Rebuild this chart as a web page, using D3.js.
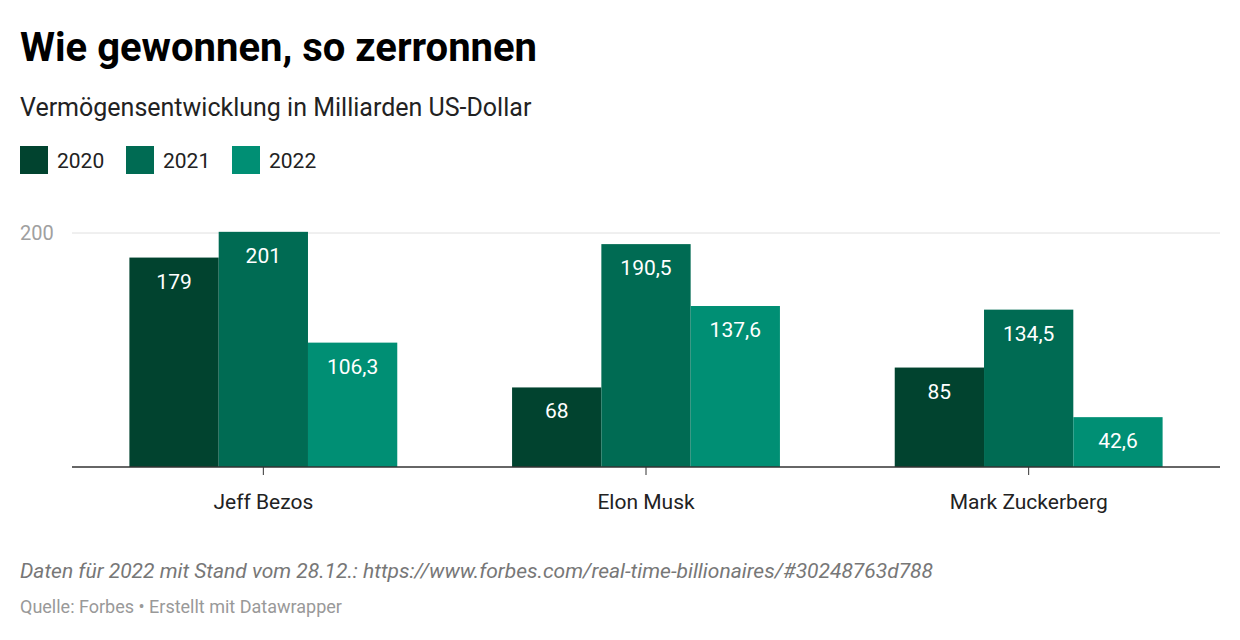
<!DOCTYPE html>
<html><head><meta charset="utf-8">
<script src="https://cdn.jsdelivr.net/npm/d3@7"></script>
<style>body{margin:0;background:#fff;font-family:Roboto,sans-serif}</style>
</head><body>
<script>
const people = ["Jeff Bezos", "Elon Musk", "Mark Zuckerberg"];
const years = ["2020", "2021", "2022"];
const v2020 = [179, 68, 85];
const v2021 = [201, 190.5, 134.5];
const v2022 = [106.3, 137.6, 42.6];
const colors = ["#01432f", "#006b53", "#008f74"];
const yTicks = [200];

const width = 1240, height = 640;
const svg = d3.select("body").append("svg").attr("width", width).attr("height", height);

svg.append("text").attr("x", 20).attr("y", 61).attr("font-size", 40).attr("font-weight", 700)
  .text("Wie gewonnen, so zerronnen");
svg.append("text").attr("x", 20).attr("y", 116).attr("font-size", 25).attr("fill", "#222")
  .text("Vermögensentwicklung in Milliarden US-Dollar");

// legend
const leg = svg.append("g");
years.forEach((yr, i) => {
  const x = 20 + i * 106;
  leg.append("rect").attr("x", x).attr("y", 146).attr("width", 28).attr("height", 28).attr("fill", colors[i]);
  leg.append("text").attr("x", x + 37).attr("y", 168).attr("font-size", 21).attr("fill", "#222").text(yr);
});

const x = d3.scaleBand().domain(people).range([72, 1220]).paddingInner(0.3).paddingOuter(0.15);
const x1 = d3.scaleBand().domain(years).range([0, x.bandwidth()]);
const y = d3.scaleLinear().domain([0, 200]).range([467, 233]);

yTicks.forEach(t => {
  svg.append("line").attr("x1", 72).attr("x2", 1220).attr("y1", y(t)).attr("y2", y(t)).attr("stroke", "#e0e0e0");
  svg.append("text").attr("x", 20).attr("y", y(t) + 7).attr("font-size", 20).attr("fill", "#a0a0a0").text(t);
});

const series = [v2020, v2021, v2022];
const fmt = v => String(v).replace(".", ",");
people.forEach((p, pi) => {
  years.forEach((yr, yi) => {
    const v = series[yi][pi];
    const bx = x(p) + x1(yr);
    svg.append("rect").attr("x", bx).attr("y", y(v)).attr("width", x1.bandwidth()).attr("height", y(0) - y(v)).attr("fill", colors[yi]);
    svg.append("text").attr("x", bx + x1.bandwidth() / 2).attr("y", y(v) + 31).attr("text-anchor", "middle")
      .attr("font-size", 21).attr("fill", "#fff").text(fmt(v));
  });
  svg.append("line").attr("x1", x(p) + x.bandwidth() / 2).attr("x2", x(p) + x.bandwidth() / 2)
    .attr("y1", 467).attr("y2", 475).attr("stroke", "#333");
  svg.append("text").attr("x", x(p) + x.bandwidth() / 2).attr("y", 509).attr("text-anchor", "middle")
    .attr("font-size", 21).attr("fill", "#222").text(p);
});
svg.append("line").attr("x1", 72).attr("x2", 1220).attr("y1", 467).attr("y2", 467).attr("stroke", "#333").attr("stroke-width", 1.5);

svg.append("text").attr("x", 20).attr("y", 578).attr("font-size", 21).attr("font-style", "italic").attr("fill", "#777")
  .text("Daten für 2022 mit Stand vom 28.12.: https://www.forbes.com/real-time-billionaires/#30248763d788");
svg.append("text").attr("x", 20).attr("y", 613).attr("font-size", 18).attr("fill", "#999")
  .text("Quelle: Forbes • Erstellt mit Datawrapper");
</script>
</body></html>
